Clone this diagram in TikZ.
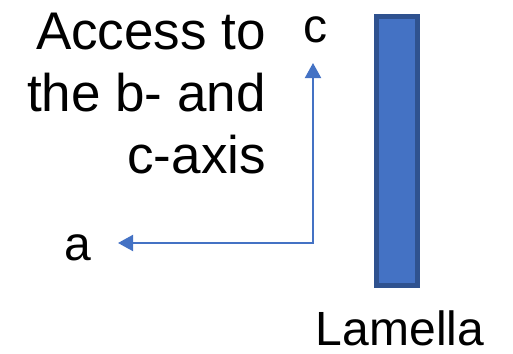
\documentclass[tikz,border=0pt]{standalone}
\usepackage{fontspec}
\setmainfont{Liberation Sans}
\usetikzlibrary{arrows.meta, positioning}
\definecolor{AxisBlue}{RGB}{68, 114, 196}
\definecolor{LamellaEdge}{RGB}{47, 82, 143}

\begin{document}
\begin{tikzpicture}[x=1pt, y=-1pt, axislabel/.style={inner sep=0pt, font=\fontsize{48}{60}\selectfont}]
        \useasboundingbox (0,0) rectangle (513,353);
        \node[axislabel, font=\fontsize{53}{62}\selectfont, align=right, anchor=base east] (access) at (266,173) {Access to\\the b- and\\c-axis};
        \node[axislabel, anchor=base] (cname) at (315,43) {c};
        \node[axislabel, anchor=base] (aname) at (78,260) {a};
        \node[draw=LamellaEdge, line width=5pt, fill=AxisBlue, minimum width=41pt, minimum height=268pt, inner sep=0pt, anchor=north west] (lamella) at (373.5,14.5) {};
        \node[axislabel, anchor=base] (lamellaname) at (400,345) {Lamella};
        \coordinate (corner) at (313,243);
        \coordinate (ctip) at (313,63);
        \coordinate (atip) at (118,243);
        \draw[AxisBlue, line width=2pt, {Triangle[width=16pt,length=15pt]}-{Triangle[width=16pt,length=15pt]}] (ctip) |- (atip);
    \end{tikzpicture}
\end{document}
